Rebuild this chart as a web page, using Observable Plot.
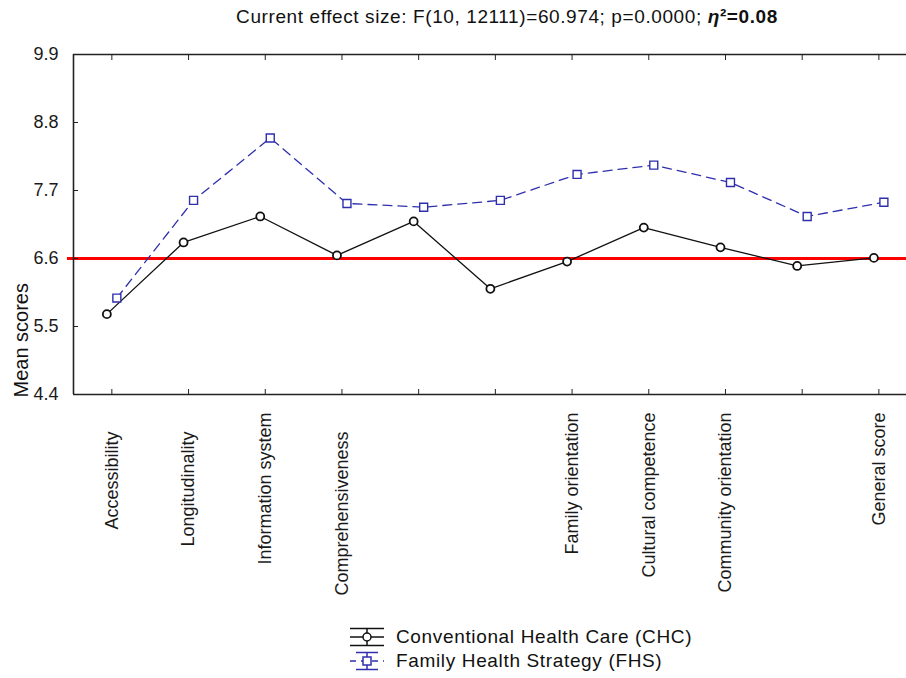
<!DOCTYPE html>
<html><head><meta charset="utf-8">
<script src="https://cdn.jsdelivr.net/npm/d3@7"></script>
<script src="https://cdn.jsdelivr.net/npm/@observablehq/plot@0.6"></script>
<style>
body{margin:0;background:#fff;font-family:"Liberation Sans",Arial,sans-serif;}
#wrap{position:relative;width:906px;height:678px;overflow:hidden;background:#fff;}
#title{position:absolute;left:507px;top:6px;transform:translateX(-50%);white-space:nowrap;font-size:19px;letter-spacing:0.6px;color:#111;}
#chart{position:absolute;left:0;top:36px;}
#legend{position:absolute;left:348px;top:625px;font-size:19px;letter-spacing:0.65px;color:#111;}
.row{display:flex;align-items:center;height:24px;}
.row svg{margin-right:8px;}
</style></head><body>
<div id="wrap">
<div id="title"></div>
<div id="chart"></div>
<div id="legend"></div>
</div>
<script>
// ---- data ----
const labels = ["Accessibility","Longitudinality","Information system","Comprehensiveness","","","Family orientation","Cultural competence","Community orientation","","General score"];
const chc = [5.70, 6.86, 7.28, 6.65, 7.20, 6.11, 6.55, 7.10, 6.78, 6.48, 6.61];
const fhs = [5.96, 7.54, 8.55, 7.49, 7.43, 7.54, 7.96, 8.11, 7.83, 7.28, 7.51];
const yTicks = [4.4, 5.5, 6.6, 7.7, 8.8, 9.9];
const refLine = [6.6];
const seriesNames = ["Conventional Health Care (CHC)", "Family Health Strategy (FHS)"];
const titleText = "Current effect size: F(10, 12111)=60.974; p=0.0000; ";
const titleBold = "²=0.08";
const yLabel = "Mean scores";

// ---- styles ----
const blue = "#2f2fae";
const dark = "#111";
const font = "'Liberation Sans', Arial, sans-serif";

document.getElementById("title").innerHTML = titleText + "<b><i>η</i>" + titleBold + "</b>";

const idx = d3.range(labels.length);
const rowsC = idx.map(i => ({i, v: chc[i]}));
const rowsF = idx.map(i => ({i, v: fhs[i]}));
const lower = [0, 1, 3];
const upper = idx.filter(i => !lower.includes(i));

const plot = Plot.plot({
  width: 906, height: 580,
  marginLeft: 73, marginRight: 0, marginTop: 18, marginBottom: 222,
  style: {fontFamily: font, background: "white", overflow: "visible", color: "#1a1a1a"},
  x: {type: "linear", domain: [-0.5, 10.36], label: null},
  y: {domain: [4.4, 9.9], label: null},
  marks: [
    Plot.ruleY(refLine, {stroke: "#ff0000", strokeWidth: 3, insetLeft: -6}),
    Plot.line(rowsC, {x: "i", y: "v", stroke: dark, strokeWidth: 1.3, dx: -5}),
    Plot.line(rowsF, {x: "i", y: "v", stroke: blue, strokeWidth: 1.3, strokeDasharray: "9,6", dx: 5}),
    Plot.dot(rowsC, {x: "i", y: "v", r: 4, stroke: dark, fill: "white", strokeWidth: 1.8, dx: -5}),
    Plot.dot(rowsF, {x: "i", y: "v", symbol: "square", r: 4.5, stroke: blue, fill: "white", strokeWidth: 1.4, dx: 5}),
    Plot.ruleX([-0.5], {stroke: "#222", strokeWidth: 1.6}),
    Plot.ruleY([4.4, 9.9], {stroke: "#222", strokeWidth: 1.6}),
    Plot.axisY({ticks: yTicks, tickSize: 5, dx: 5, tickFormat: () => "", label: null, stroke: "#222"}),
    Plot.axisY({ticks: yTicks, tickSize: 0, tickPadding: 15, tickFormat: d => d.toFixed(1), fontSize: 18, label: null}),
    Plot.text([yLabel], {frameAnchor: "bottom-left", rotate: -90, textAnchor: "start", lineAnchor: "middle",
      dx: -52, dy: 3, fontSize: 20, fill: "#111"}),
    Plot.axisX({ticks: idx, anchor: "bottom", tickSize: 5, dy: -5, tickFormat: () => "", label: null, stroke: "#222"}),
    Plot.axisX({ticks: idx, anchor: "top", tickSize: 5, dy: 5, tickFormat: () => "", label: null, stroke: "#222"}),
    Plot.axisX({ticks: upper, anchor: "bottom", tickSize: 0, tickPadding: 18, tickRotate: -90,
      tickFormat: i => labels[i], fontSize: 18, label: null}),
    Plot.axisX({ticks: lower, anchor: "bottom", tickSize: 0, tickPadding: 37, tickRotate: -90,
      tickFormat: i => labels[i], fontSize: 18, label: null})
  ]
});
document.getElementById("chart").appendChild(plot);

// ---- legend ----
const sym = [
  `<svg width="40" height="24"><g stroke="${dark}" stroke-width="1.5" fill="none">
    <line x1="2" x2="36" y1="3.5" y2="3.5"/><line x1="2" x2="36" y1="20.5" y2="20.5"/>
    <line x1="19" x2="19" y1="3.5" y2="20.5"/><line x1="2" x2="36" y1="12" y2="12"/>
    <circle cx="19" cy="12" r="4" fill="white"/></g></svg>`,
  `<svg width="40" height="24"><g stroke="${blue}" stroke-width="1.5" fill="none">
    <line x1="8" x2="30" y1="3.5" y2="3.5"/><line x1="8" x2="30" y1="20.5" y2="20.5"/>
    <line x1="19" x2="19" y1="3.5" y2="20.5"/><line x1="2" x2="36" y1="12" y2="12" stroke-dasharray="6,5"/>
    <rect x="15" y="8" width="8" height="8" fill="white"/></g></svg>`
];
document.getElementById("legend").innerHTML = seriesNames.map((n, k) =>
  `<div class="row">${sym[k]}<span>${n}</span></div>`).join("");
</script>
</body></html>
